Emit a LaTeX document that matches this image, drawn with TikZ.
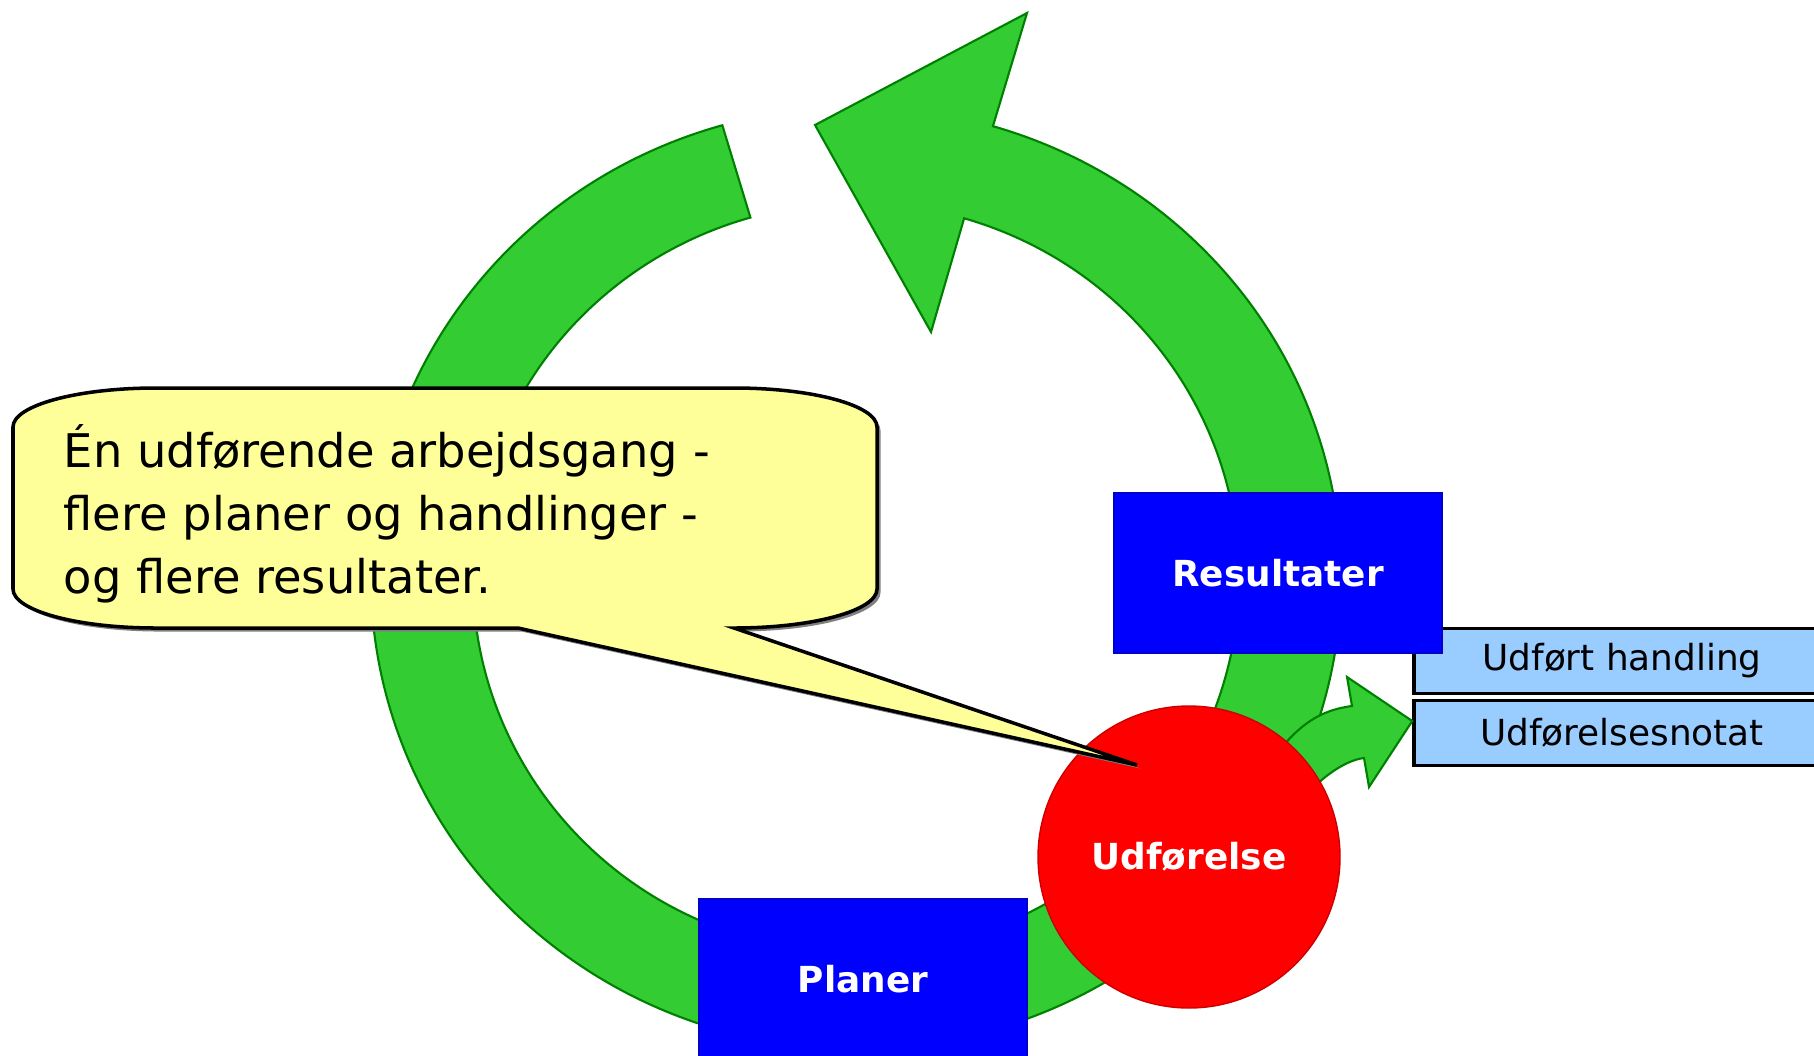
\documentclass[tikz,border=0pt]{standalone}
\usepackage{fontspec}
\setmainfont{DejaVu Sans}
\usetikzlibrary{calc,positioning,shadows}

\definecolor{ringgreen}{RGB}{51,204,51}
\definecolor{ringedge}{RGB}{0,128,0}
\definecolor{boxblue}{RGB}{0,0,255}
\definecolor{circred}{RGB}{255,0,0}
\definecolor{calloutyellow}{RGB}{255,255,153}
\definecolor{notelightblue}{RGB}{153,204,255}

\begin{document}
\begin{tikzpicture}[
        arrowfill/.style={fill=ringgreen, draw=ringedge, line width=0.6pt},
        bluebox/.style={draw=blue!80!black, fill=boxblue, minimum width=3.28cm, minimum height=1.6cm,
            text=white, font=\fontsize{10.2}{12}\selectfont\bfseries},
        notebox/.style={draw=black, line width=1pt, fill=notelightblue, minimum width=4.16cm,
            minimum height=0.65cm, font=\fontsize{10.2}{12}\selectfont}
    ]
        \useasboundingbox (0,0) rectangle (18.14,10.55);

        % Ringen med pilespids
        \coordinate (M) at (8.56,4.77);
        \filldraw[arrowfill] ($(M)+(106:4.85 and 4.71)$)
            arc[start angle=106, end angle=433.6, x radius=4.85, y radius=4.71]
            -- (10.27,10.42) -- (8.15,9.30) -- (9.31,7.23)
            -- ($(M)+(73.6:3.83 and 3.75)$)
            arc[start angle=433.6, end angle=106, x radius=3.83, y radius=3.75] -- cycle;

        % Bokse
        \node[notebox] (handling) at (16.22,3.94) {Udført handling};
        \node[notebox, below=0.035cm of handling] (notat) {Udførelsesnotat};
        \node[bluebox] (res)  at (12.78,4.82) {Resultater};
        \node[bluebox] (plan) at (8.63,0.76) {Planer};

        % Lille pil mod notatet
        \coordinate (pilspids) at ($(notat.west)+(0,0.12)$);
        \filldraw[arrowfill] (12.65,2.85) .. controls (12.95,3.30) and (13.20,3.45) .. (13.52,3.49)
            -- (13.47,3.78) -- (pilspids) -- (13.69,2.68) -- (13.64,2.97)
            .. controls (13.45,2.95) and (13.15,2.75) .. (12.95,2.45) -- cycle;

        % Udførelse
        \node[circle, fill=circred, draw=red!80!black, minimum size=3.02cm, text=white,
            font=\fontsize{10.2}{12}\selectfont\bfseries] (udf) at (11.89,1.98) {Udførelse};

        % Taleboble
        \coordinate (spids) at ($(udf.center)+(-0.52,0.92)$);
        \filldraw[fill=calloutyellow, draw=black, line width=1pt,
            drop shadow={shadow xshift=1pt, shadow yshift=-1pt, fill=gray, opacity=1}]
            (1.56,6.67) -- (7.34,6.67)
            arc[start angle=90, end angle=0, x radius=1.43, y radius=0.39] -- (8.77,4.66)
            arc[start angle=0, end angle=-90, x radius=1.43, y radius=0.39]
            -- (spids) -- (5.18,4.27) -- (1.56,4.27)
            arc[start angle=270, end angle=180, x radius=1.43, y radius=0.39] -- (0.13,6.28)
            arc[start angle=180, end angle=90, x radius=1.43, y radius=0.39] -- cycle;
        \node[anchor=base west, align=left, inner sep=0pt, font=\fontsize{13.2}{17.9}\selectfont]
            (tekst) at (0.63,4.62) {Én udførende arbejdsgang -\\flere planer og handlinger -\\og flere resultater.};
\end{tikzpicture}
\end{document}
